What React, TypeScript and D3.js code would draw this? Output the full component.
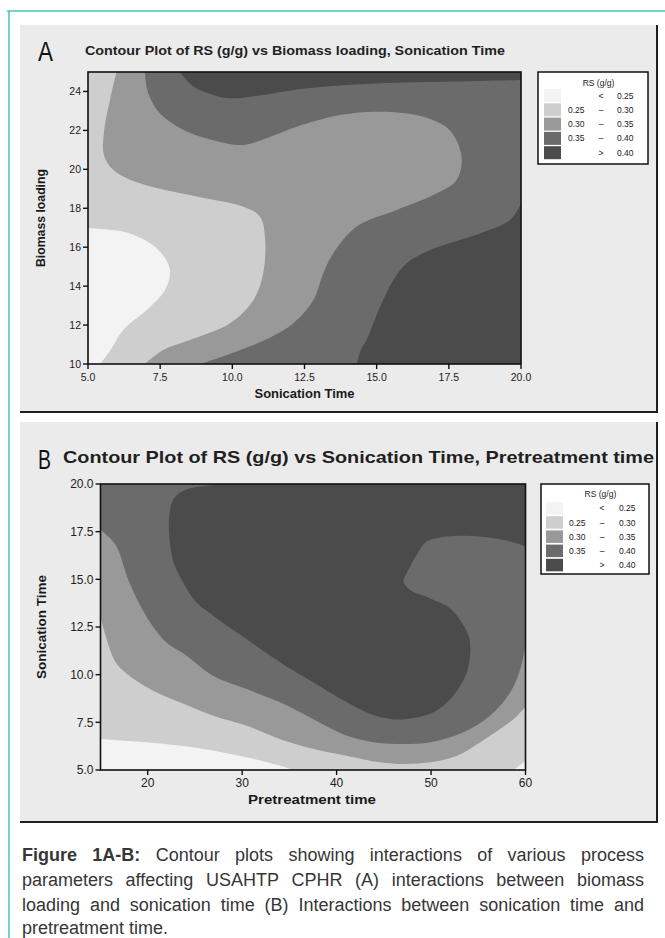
import React, { useMemo } from 'react';
import * as d3 from 'd3';

type Pt = [number, number];

const FONT = '"Liberation Sans", Arial, Helvetica, sans-serif';

// ---------- legend ----------
const bandColors = ['#f3f3f3', '#cecece', '#999999', '#6b6b6b', '#4b4b4b'];
const legendTitle = 'RS (g/g)';
const legendLow = ['', '0.25', '0.30', '0.35', ''];
const legendOp = ['<', '\u2013', '\u2013', '\u2013', '>'];
const legendHigh = ['0.25', '0.30', '0.35', '0.40', '0.40'];

// ---------- panel A ----------
const aLetter = 'A';
const aTitle = 'Contour Plot of RS (g/g) vs Biomass loading, Sonication Time';
const aXLabel = 'Sonication Time';
const aYLabel = 'Biomass loading';
const aXDomain: Pt = [5, 20];
const aYDomain: Pt = [10, 25];
const aXTicks = [5, 7.5, 10, 12.5, 15, 17.5, 20];
const aYTicks = [10, 12, 14, 16, 18, 20, 22, 24];
// contour lines [sonication time, biomass loading]
const aLine025: Pt[] = [[5, 16.97], [6.45, 16.71], [7.44, 15.86], [7.84, 14.83], [7.67, 13.8], [7.03, 12.77], [6.22, 11.75], [5.78, 10.72], [5.42, 10]];
const aLine030: Pt[] = [[5.99, 25], [5.76, 23.56], [5.55, 21.85], [5.55, 20.74], [5.88, 19.97], [6.8, 19.28], [8.76, 18.6], [10.38, 18.08], [10.96, 17.57], [11.13, 16.54], [11.07, 14.66], [10.73, 13.29], [9.92, 12.09], [8.53, 11.23], [7.61, 10.72], [6.97, 10]];
const aLine035: Pt[] = [[6.97, 25], [7.09, 23.9], [7.49, 22.88], [8.42, 21.94], [9.34, 21.5], [10.38, 21.25], [11.19, 21.6], [12.23, 22.19], [13.73, 22.79], [15.12, 22.96], [16.62, 22.7], [17.54, 22.0], [17.94, 20.65], [17.77, 19.45], [16.96, 18.68], [15.69, 17.91], [14.31, 17.06], [13.5, 15.69], [13.15, 14.66], [12.81, 13.29], [12.11, 12.09], [11.3, 11.35], [10.1, 10.62], [8.88, 10]];
const aLine040Top: Pt[] = [[8.19, 25], [8.65, 24.25], [9.34, 23.82], [9.92, 23.65], [11.07, 23.82], [12.57, 24.16], [15.12, 24.42], [17.42, 24.5], [20, 24.59]];
const aLine040Right: Pt[] = [[20, 18.25], [19.62, 17.4], [18.58, 16.71], [16.85, 15.86], [16.04, 15.17], [15.58, 14.32], [15.12, 12.95], [14.65, 11.23], [14.45, 10.72], [14.32, 10]];

// ---------- panel B ----------
const bLetter = 'B';
const bTitle = 'Contour Plot of RS (g/g) vs Sonication Time, Pretreatment time';
const bXLabel = 'Pretreatment time';
const bYLabel = 'Sonication Time';
const bXDomain: Pt = [15, 60];
const bYDomain: Pt = [5, 20];
const bXTicks = [20, 30, 40, 50, 60];
const bYTicks = [5, 7.5, 10, 12.5, 15, 17.5, 20];
// contour lines [pretreatment time, sonication time]
const bLine025: Pt[] = [[15, 6.63], [19.78, 6.46], [23.33, 6.28], [26.87, 6.02], [30.41, 5.67], [33.96, 5.23], [35.37, 5]];
const bLine025Corner: Pt[] = [[58.76, 5], [60, 5.49]];
const bLine030: Pt[] = [[15, 13.04], [15.53, 12.07], [16.59, 10.67], [18.01, 9.96], [20.85, 9.09], [23.33, 8.56], [26.87, 7.86], [30.41, 7.33], [33.96, 6.63], [37.5, 6.11], [41.04, 5.75], [44.59, 5.4], [46.71, 5.32], [49.9, 5.4], [52.74, 5.75], [55.22, 6.46], [57.35, 7.16], [58.76, 7.68], [60, 8.3]];
const bLine035: Pt[] = [[15, 17.6], [16.59, 16.81], [18.01, 14.88], [19.78, 13.12], [21.91, 11.72], [24.04, 11.02], [26.87, 9.96], [30.41, 9.26], [33.96, 8.56], [37.5, 7.68], [41.04, 6.81], [43.88, 6.46], [46.36, 6.37], [49.9, 6.46], [53.44, 6.98], [56.28, 7.86], [58.41, 9.09], [59.47, 10.32], [60, 11.54]];
const bLine040: Pt[] = [[27.93, 20], [24.04, 19.7], [22.8, 19.26], [22.26, 18.21], [22.62, 16.11], [23.33, 15.23], [25.1, 13.82], [26.87, 13.12], [30.41, 11.89], [33.96, 10.67], [37.5, 9.61], [41.04, 8.56], [43.52, 7.95], [45.65, 7.68], [47.42, 7.68], [50.26, 8.03], [52.38, 8.91], [53.8, 10.14], [54.15, 11.54], [53.8, 12.25], [52.03, 13.47], [49.9, 14.0], [47.78, 14.44], [47.07, 14.88], [47.24, 15.14], [48.48, 16.28], [49.55, 16.98], [51.67, 17.25], [55.22, 17.25], [58.41, 16.98], [60, 16.72]];

// ---------- caption ----------
const captionLines = [
  'Figure 1A-B: Contour plots showing interactions of various process',
  'parameters affecting USAHTP CPHR (A) interactions between biomass',
  'loading and sonication time (B) Interactions between sonication time and',
  'pretreatment time.',
];
const captionBoldWords = 2;

type Region = { line: Pt[]; close: string[]; band: number };

const aRegions: Region[] = [
  { line: aLine030, close: ['bl', 'tl'], band: 1 },
  { line: aLine025, close: ['bl'], band: 0 },
  { line: aLine035, close: ['br', 'tr'], band: 3 },
  { line: aLine040Top, close: ['tr'], band: 4 },
  { line: aLine040Right, close: ['br'], band: 4 },
];
const bRegions: Region[] = [
  { line: bLine035, close: ['tr', 'tl'], band: 3 },
  { line: bLine040, close: ['tr'], band: 4 },
  { line: bLine030, close: ['br', 'bl'], band: 1 },
  { line: bLine025, close: ['bl'], band: 0 },
  { line: bLine025Corner, close: ['br'], band: 0 },
];

function regionPath(xs: any, ys: any, line: Pt[], close: string[]) {
  const [dx0, dx1] = xs.domain();
  const [dy0, dy1] = ys.domain();
  const px = (dx1 - dx0) * 0.05;
  const py = (dy1 - dy0) * 0.05;
  const corner: Record<string, Pt> = {
    bl: [dx0 - px, dy0 - py],
    br: [dx1 + px, dy0 - py],
    tl: [dx0 - px, dy1 + py],
    tr: [dx1 + px, dy1 + py],
  };
  const gen = d3
    .line<Pt>()
    .x((d) => xs(d[0]))
    .y((d) => ys(d[1]))
    .curve(d3.curveCatmullRom.alpha(0.5));
  return (
    gen(line) +
    close.map((c) => `L${xs(corner[c][0])},${ys(corner[c][1])}`).join('') +
    'Z'
  );
}

type PanelProps = {
  id: string;
  box: { x: number; y: number; w: number; h: number };
  letter: string;
  letterPos: { x: number; y: number; size: number; len: number };
  title: string;
  titlePos: { x: number; y: number; size: number; len: number };
  xs: any;
  ys: any;
  xTicks: number[];
  yTicks: number[];
  xFmt: (v: number) => string;
  yFmt: (v: number) => string;
  tickSize: number;
  tickLabelDy: number;
  regions: Region[];
  xLabel: string;
  yLabel: string;
  xLabelPos: { x: number; y: number; len: number };
  yLabelPos: { x: number; y: number; len: number };
  legend: { x: number; y: number; w: number; h: number; titleY: number; row0: number; step: number; swX: number; swW: number; swH: number; lowX: number; opX: number; highX: number; font: number };
};

function Panel(p: PanelProps) {
  const [l, r] = p.xs.range();
  const [b, t] = p.ys.range();
  const lg = p.legend;
  return (
    <g>
      <rect x={p.box.x} y={p.box.y} width={p.box.w} height={p.box.h} fill="#ebebeb" />
      <line x1={p.box.x + p.box.w} y1={p.box.y} x2={p.box.x + p.box.w} y2={p.box.y + p.box.h} stroke="#1e1e1e" strokeWidth={2} />
      <line x1={p.box.x} y1={p.box.y + p.box.h} x2={p.box.x + p.box.w + 1} y2={p.box.y + p.box.h} stroke="#1e1e1e" strokeWidth={2} />
      <text
        x={p.letterPos.x}
        y={p.letterPos.y}
        fontSize={p.letterPos.size}
        fontFamily={FONT}
        fill="#111"
        textLength={p.letterPos.len}
        lengthAdjust="spacingAndGlyphs"
      >
        {p.letter}
      </text>
      <text
        x={p.titlePos.x}
        y={p.titlePos.y}
        fontSize={p.titlePos.size}
        fontFamily={FONT}
        fontWeight="bold"
        fill="#1f1f1f"
        textLength={p.titlePos.len}
        lengthAdjust="spacingAndGlyphs"
      >
        {p.title}
      </text>
      <defs>
        <clipPath id={`clip-${p.id}`}>
          <rect x={l} y={t} width={r - l} height={b - t} />
        </clipPath>
      </defs>
      <g clipPath={`url(#clip-${p.id})`}>
        <rect x={l} y={t} width={r - l} height={b - t} fill={bandColors[2]} />
        {p.regions.map((rg, i) => (
          <path key={i} d={regionPath(p.xs, p.ys, rg.line, rg.close)} fill={bandColors[rg.band]} />
        ))}
      </g>
      <rect x={l} y={t} width={r - l} height={b - t} fill="none" stroke="#111" strokeWidth={1.6} />
      {p.xTicks.map((v) => (
        <g key={'x' + v}>
          <line x1={p.xs(v)} x2={p.xs(v)} y1={b} y2={b + 5} stroke="#111" strokeWidth={1.4} />
          <text x={p.xs(v)} y={b + p.tickLabelDy} fontSize={p.tickSize} fontFamily={FONT} textAnchor="middle" fill="#222">
            {p.xFmt(v)}
          </text>
        </g>
      ))}
      {p.yTicks.map((v) => (
        <g key={'y' + v}>
          <line x1={l - 5} x2={l} y1={p.ys(v)} y2={p.ys(v)} stroke="#111" strokeWidth={1.4} />
          <text x={l - 7} y={p.ys(v)} dy="0.35em" fontSize={p.tickSize} fontFamily={FONT} textAnchor="end" fill="#222">
            {p.yFmt(v)}
          </text>
        </g>
      ))}
      <text
        x={p.xLabelPos.x}
        y={p.xLabelPos.y}
        fontSize={12}
        fontFamily={FONT}
        fontWeight="bold"
        textAnchor="middle"
        fill="#1a1a1a"
        textLength={p.xLabelPos.len}
        lengthAdjust="spacingAndGlyphs"
      >
        {p.xLabel}
      </text>
      <text
        transform={`translate(${p.yLabelPos.x},${p.yLabelPos.y}) rotate(-90)`}
        fontSize={12}
        fontFamily={FONT}
        fontWeight="bold"
        textAnchor="middle"
        fill="#1a1a1a"
        textLength={p.yLabelPos.len}
        lengthAdjust="spacingAndGlyphs"
      >
        {p.yLabel}
      </text>
      <g>
        <rect x={lg.x} y={lg.y} width={lg.w} height={lg.h} fill="#fff" stroke="#111" strokeWidth={1.5} />
        <text x={lg.x + lg.w * 0.55} y={lg.titleY} fontSize={lg.font} fontFamily={FONT} textAnchor="middle" fill="#222">
          {legendTitle}
        </text>
        {bandColors.map((c, i) => {
          const ry = lg.row0 + i * lg.step;
          const cy = ry + lg.swH / 2 + lg.font * 0.36;
          return (
            <g key={i}>
              <rect x={lg.swX} y={ry} width={lg.swW} height={lg.swH} fill={c} />
              <text x={lg.lowX} y={cy} fontSize={lg.font} fontFamily={FONT} fill="#222">
                {legendLow[i]}
              </text>
              <text x={lg.opX} y={cy} fontSize={lg.font} fontFamily={FONT} textAnchor="middle" fill="#222">
                {legendOp[i]}
              </text>
              <text x={lg.highX} y={cy} fontSize={lg.font} fontFamily={FONT} fill="#222">
                {legendHigh[i]}
              </text>
            </g>
          );
        })}
      </g>
    </g>
  );
}

function Caption() {
  const x0 = 22;
  const x1 = 644;
  const size = 18;
  const baselines = [861, 886, 911, 934];
  const words = useMemo(() => {
    const canvas = typeof document !== 'undefined' ? document.createElement('canvas') : null;
    const ctx = canvas ? canvas.getContext('2d') : null;
    const measure = (s: string, bold: boolean) => {
      if (!ctx) return s.length * size * 0.5;
      ctx.font = `${bold ? 'bold ' : ''}${size}px "Liberation Sans", Arial, sans-serif`;
      return ctx.measureText(s).width;
    };
    const out: { t: string; x: number; y: number; bold: boolean }[] = [];
    captionLines.forEach((line, li) => {
      const ws = line.split(' ');
      const bolds = ws.map((_, wi) => li === 0 && wi < captionBoldWords);
      const widths = ws.map((w, wi) => measure(w, bolds[wi]));
      const total = widths.reduce((a, c) => a + c, 0);
      const last = li === captionLines.length - 1;
      const gap = last || ws.length < 2 ? measure(' ', false) : (x1 - x0 - total) / (ws.length - 1);
      let cx = x0;
      ws.forEach((w, wi) => {
        out.push({ t: w, x: cx, y: baselines[li], bold: bolds[wi] });
        cx += widths[wi] + gap;
      });
    });
    return out;
  }, []);
  return (
    <g>
      {words.map((w, i) => (
        <text key={i} x={w.x} y={w.y} fontSize={size} fontFamily={FONT} fontWeight={w.bold ? 'bold' : 'normal'} fill="#363636">
          {w.t}
        </text>
      ))}
    </g>
  );
}

export default function App() {
  const axs = d3.scaleLinear().domain(aXDomain).range([88, 521]);
  const ays = d3.scaleLinear().domain(aYDomain).range([364, 72]);
  const bxs = d3.scaleLinear().domain(bXDomain).range([100.5, 525.5]);
  const bys = d3.scaleLinear().domain(bYDomain).range([770, 484]);
  const f1 = d3.format('.1f');
  const f0 = d3.format('d');

  return (
    <svg
      width={665}
      height={938}
      viewBox="0 0 665 938"
      style={{ position: 'absolute', left: 0, top: 0, background: '#fff' }}
    >
      <rect x={0} y={0} width={665} height={938} fill="#fff" />
      <line x1={7} y1={11} x2={665} y2={11} stroke="#44c4b1" strokeWidth={1.5} />
      <line x1={9} y1={11} x2={9} y2={938} stroke="#44c4b1" strokeWidth={1.5} />

      <Panel
        id="a"
        box={{ x: 20, y: 25, w: 637, h: 387 }}
        letter={aLetter}
        letterPos={{ x: 38, y: 61, size: 27, len: 15 }}
        title={aTitle}
        titlePos={{ x: 85, y: 55, size: 13, len: 420 }}
        xs={axs}
        ys={ays}
        xTicks={aXTicks}
        yTicks={aYTicks}
        xFmt={f1}
        yFmt={f0}
        tickSize={10.5}
        tickLabelDy={17}
        regions={aRegions}
        xLabel={aXLabel}
        yLabel={aYLabel}
        xLabelPos={{ x: 304.5, y: 398, len: 100 }}
        yLabelPos={{ x: 45, y: 218, len: 98 }}
        legend={{ x: 538, y: 72, w: 110, h: 92, titleY: 86, row0: 89, step: 14.3, swX: 544, swW: 17, swH: 13, lowX: 568, opX: 601, highX: 617, font: 8.5 }}
      />

      <Panel
        id="b"
        box={{ x: 20, y: 422, w: 637, h: 400 }}
        letter={bLetter}
        letterPos={{ x: 38, y: 469, size: 27, len: 13 }}
        title={bTitle}
        titlePos={{ x: 63, y: 463, size: 17, len: 591 }}
        xs={bxs}
        ys={bys}
        xTicks={bXTicks}
        yTicks={bYTicks}
        xFmt={f0}
        yFmt={f1}
        tickSize={12}
        tickLabelDy={17}
        regions={bRegions}
        xLabel={bXLabel}
        yLabel={bYLabel}
        xLabelPos={{ x: 312, y: 804, len: 128 }}
        yLabelPos={{ x: 46, y: 627, len: 104 }}
        legend={{ x: 541, y: 484, w: 108, h: 90, titleY: 497, row0: 502, step: 14.2, swX: 546, swW: 17, swH: 12.5, lowX: 569, opX: 602, highX: 619, font: 8.5 }}
      />

      <Caption />
    </svg>
  );
}
